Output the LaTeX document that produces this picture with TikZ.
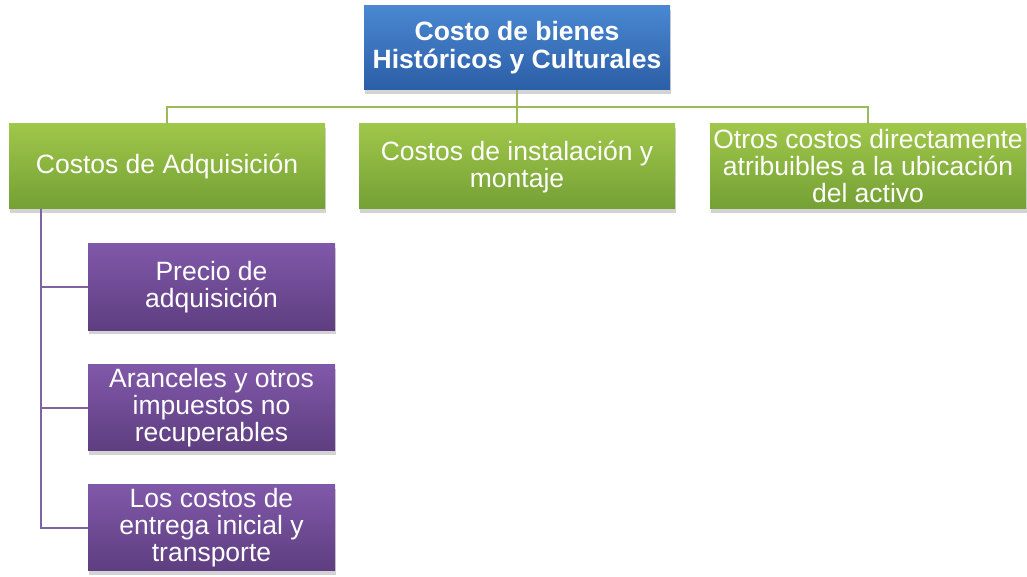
\documentclass[tikz,border=0pt]{standalone}
\usepackage{fontspec}
\setmainfont{Liberation Sans}
\usetikzlibrary{shadows}
\definecolor{azulA}{HTML}{4A88D2}
\definecolor{azulB}{HTML}{2B5EA6}
\definecolor{verdeA}{HTML}{A0C74A}
\definecolor{verdeB}{HTML}{74A035}
\definecolor{moradoA}{HTML}{8058A9}
\definecolor{moradoB}{HTML}{5E3E80}
\definecolor{lineaverde}{HTML}{9BBB59}
\definecolor{lineamorada}{HTML}{8064A2}
\begin{document}
\begin{tikzpicture}[x=0.5pt,y=-0.5pt,
    caja/.style={inner sep=0pt, align=center, text=white,
        drop shadow={shadow xshift=0.6pt, shadow yshift=-2pt, opacity=0.35}},
    raiz/.style={caja, top color=azulA, bottom color=azulB,
        minimum width=153pt, minimum height=42pt,
        font=\fontsize{13.25pt}{14pt}\selectfont\bfseries},
    rama/.style={caja, top color=verdeA, bottom color=verdeB,
        minimum width=158pt, minimum height=42.5pt,
        font=\fontsize{13.25pt}{13.5pt}\selectfont},
    hoja/.style={caja, top color=moradoA, bottom color=moradoB,
        minimum width=123.5pt, minimum height=43pt,
        font=\fontsize{13.25pt}{13.5pt}\selectfont},
    verde/.style={draw=lineaverde, line width=1pt},
    morada/.style={draw=lineamorada, line width=1pt}]
    \useasboundingbox (0,0) rectangle (1027,577);
    \node[raiz] (R) at (517,48) {Costo de bienes\\Históricos y Culturales};
    \node[rama] (A) at (167,166.5) {Costos de Adquisición};
    \node[rama] (B) at (517,166.5) {Costos de instalación y\\montaje};
    \node[rama] (C) at (868,166.5) {Otros costos directamente\\atribuibles a la ubicación\\del activo};
    \node[hoja] (A1) at (211.5,287) {Precio de\\adquisición};
    \node[hoja] (A2) at (211.5,407.5) {Aranceles y otros\\impuestos no\\recuperables};
    \node[hoja] (A3) at (211.5,527.5) {Los costos de\\entrega inicial y\\transporte};
    \coordinate (J) at (517,107);
    \draw[verde] (R.south) -- (J);
    \draw[verde] (J) -| (A.north);
    \draw[verde] (J) -- (B.north);
    \draw[verde] (J) -| (C.north);
    \draw[morada] ([xshift=16pt]A.south west) |- (A1.west);
    \draw[morada] ([xshift=16pt]A.south west) |- (A2.west);
    \draw[morada] ([xshift=16pt]A.south west) |- (A3.west);
\end{tikzpicture}
\end{document}
